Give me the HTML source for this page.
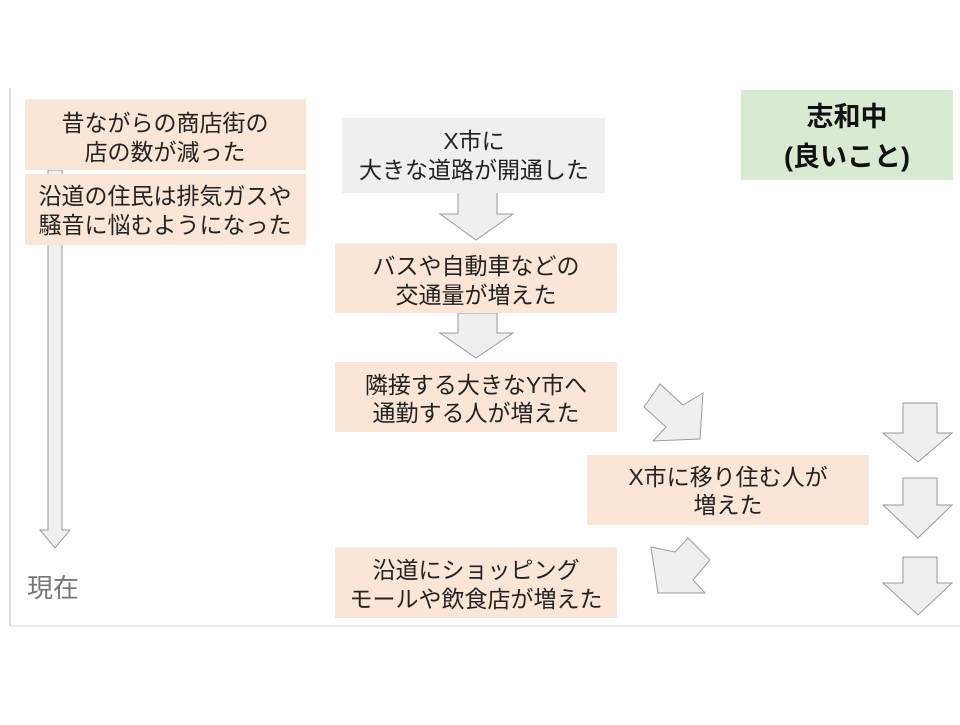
<!DOCTYPE html>
<html><head><meta charset="utf-8"><style>
body{margin:0;background:#fff;}
svg text{font-family:"Liberation Sans","Noto Sans CJK JP",sans-serif;}
</style></head><body>
<svg width="960" height="720" viewBox="0 0 960 720" xmlns="http://www.w3.org/2000/svg">
<rect width="960" height="720" fill="#fff"/>
<line x1="10" y1="88" x2="10" y2="626" stroke="#d0d0d0" stroke-width="1.5"/>
<line x1="10" y1="626" x2="960" y2="626" stroke="#e6e6e6" stroke-width="1.5"/>
<g fill="#efefef" stroke="#9a9a9a" stroke-width="1">
<polygon points="48,170 62,170 62,530 70,530 55,548 40,530 48,530"/>
<polygon points="458,188 497,188 497,214 513,214 476,240 440,214 458,214"/>
<polygon points="458,313 497,313 497,333 513,333 476,358 440,333 458,333"/>
<polygon points="644,407 660,384 683,405 703,393 700,439 653,441 666,427"/>
<polygon points="651,547 675,552 688,538 710,560 693,580 705,593 658,593"/>
<polygon points="903,403 937,403 937,433 952,433 918,462 883,433 903,433"/>
<polygon points="903,478 937,478 937,505 952,505 918,538 883,505 903,505"/>
<polygon points="903,557 937,557 937,583 952,583 918,615 883,583 903,583"/>
</g>
<g fill="#fbe5d6">
<rect x="25" y="99" width="281" height="71"/>
<rect x="25" y="174" width="281" height="71"/>
<rect x="335" y="243" width="282" height="70"/>
<rect x="335" y="362" width="282" height="70"/>
<rect x="587" y="455" width="282" height="70"/>
<rect x="335" y="547" width="282" height="71"/>
</g>
<rect x="342" y="118" width="263" height="75" fill="#efefef"/>
<rect x="741" y="90" width="212" height="90" fill="#d9ead3"/>
<g font-size="23" fill="#222" text-anchor="middle">
<text x="165" y="131">昔ながらの商店街の</text>
<text x="165" y="160">店の数が減った</text>
<text x="165" y="204">沿道の住民は排気ガスや</text>
<text x="165" y="233">騒音に悩むようになった</text>
<text x="474" y="149">X市に</text>
<text x="474" y="178">大きな道路が開通した</text>
<text x="476" y="274">バスや自動車などの</text>
<text x="476" y="303">交通量が増えた</text>
<text x="476" y="393">隣接する大きなY市へ</text>
<text x="476" y="421">通勤する人が増えた</text>
<text x="728" y="485">X市に移り住む人が</text>
<text x="728" y="513">増えた</text>
<text x="476" y="578">沿道にショッピング</text>
<text x="476" y="607">モールや飲食店が増えた</text>
</g>
<g font-size="27" font-weight="bold" fill="#111" text-anchor="middle">
<text x="847" y="126">志和中</text>
<text x="847" y="166">(良いこと)</text>
</g>
<text x="27" y="597" font-size="26" fill="#777">現在</text>
</svg>
</body></html>
